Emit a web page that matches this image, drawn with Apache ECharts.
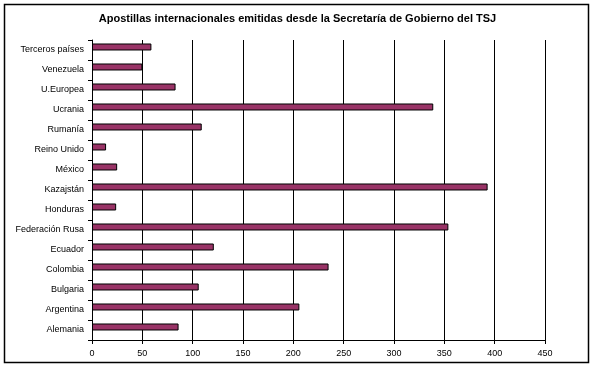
<!DOCTYPE html>
<html>
<head>
<meta charset="utf-8">
<script src="https://cdn.jsdelivr.net/npm/echarts@6/dist/echarts.min.js"></script>
<style>html,body{margin:0;padding:0;background:#fff}#c{width:595px;height:369px}</style>
</head>
<body>
<div id="c"></div>
<script>
const titleText = 'Apostillas internacionales emitidas desde la Secretaría de Gobierno del TSJ';
const categories = ['Alemania','Argentina','Bulgaria','Colombia','Ecuador','Federación Rusa','Honduras','Kazajstán','México','Reino Unido','Rumanía','Ucrania','U.Europea','Venezuela','Terceros países'];
const apostillas = [86, 206, 106, 235, 121, 354, 24, 393, 25, 14, 109, 339, 83, 50, 59];
const xTicks = {min: 0, max: 450, interval: 50};

const FONT = "'Liberation Sans',Arial,sans-serif";
const chart = echarts.init(document.getElementById('c'), null, {renderer: 'canvas'});
chart.setOption({
  animation: false,
  backgroundColor: '#fff',
  title: {
    text: titleText, left: 'center', top: 8,
    textStyle: {fontFamily: FONT, fontSize: 11, fontWeight: 'bold', color: '#000'}
  },
  graphic: [{
    type: 'rect', silent: true, z: -1,
    shape: {x: 4.5, y: 4.5, width: 584, height: 358},
    style: {fill: 'none', stroke: '#000', lineWidth: 1.5}
  }],
  grid: {left: 92, right: 50, top: 40, bottom: 29, containLabel: false},
  xAxis: {
    type: 'value', min: xTicks.min, max: xTicks.max, interval: xTicks.interval,
    axisLine: {show: true, lineStyle: {color: '#000', width: 1}},
    axisTick: {show: true, length: 4, lineStyle: {color: '#000'}},
    axisLabel: {color: '#000', fontFamily: FONT, fontSize: 9, margin: 9},
    splitLine: {show: true, lineStyle: {color: '#000', width: 1}}
  },
  yAxis: {
    type: 'category', data: categories,
    axisLine: {show: true, lineStyle: {color: '#000', width: 1}},
    axisTick: {show: true, length: 4, lineStyle: {color: '#000'}},
    axisLabel: {color: '#000', fontFamily: FONT, fontSize: 9, margin: 8, interval: 0},
    splitLine: {show: false}
  },
  series: [{
    type: 'bar', data: apostillas, barWidth: 7, barGap: '-14%',
    itemStyle: {color: '#993366', borderColor: '#000', borderWidth: 1}
  }, {
    type: 'bar', data: categories.map(() => '-'), barWidth: 7, silent: true
  }]
});
</script>
</body>
</html>
